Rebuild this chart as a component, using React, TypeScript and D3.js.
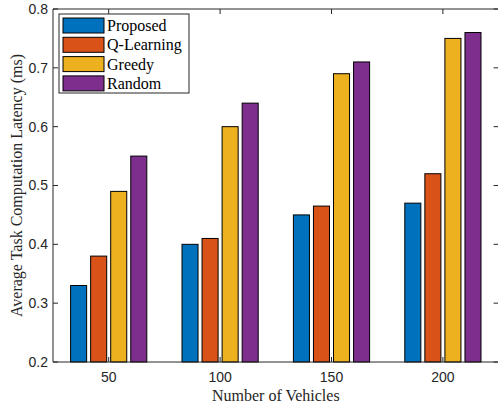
import React from "react";
import * as d3 from "d3";

// Number of vehicles on the x axis
const vehicleCounts = ["50", "100", "150", "200"];

// Average latency per scheme (ms)
const proposed = [0.33, 0.4, 0.45, 0.47];
const qLearning = [0.38, 0.41, 0.465, 0.52];
const greedy = [0.49, 0.6, 0.69, 0.75];
const random = [0.55, 0.64, 0.71, 0.76];

const seriesNames = ["Proposed", "Q-Learning", "Greedy", "Random"];
const seriesColors = ["#0072BD", "#D95319", "#EDB120", "#7E2F8E"];
const yTicks = [0.2, 0.3, 0.4, 0.5, 0.6, 0.7, 0.8];

const W = 498;
const H = 407;
const plot = { left: 53, right: 498.6, top: 9, bottom: 362 };
const axisColor = "#262626";
const sans = "'Liberation Sans', Arial, Helvetica, sans-serif";
const serif = "'Liberation Serif', 'Times New Roman', serif";

export default function App() {
  const series = [proposed, qLearning, greedy, random];
  const x = d3
    .scaleLinear()
    .domain([0.5, vehicleCounts.length + 0.5])
    .range([plot.left, plot.right]);
  const y = d3.scaleLinear().domain([0.2, 0.8]).range([plot.bottom, plot.top]);

  const step = 0.18; // spacing between bars in a group (category units)
  const barW = 0.144; // bar width (category units)
  const tick = 5;

  return (
    <svg
      width={W}
      height={H}
      style={{ position: "absolute", left: 0, top: 0, background: "#fff" }}
    >
      {/* bars */}
      {series.map((vals, s) =>
        vals.map((v, i) => {
          const c = i + 1 + (s - (series.length - 1) / 2) * step;
          const x0 = x(c - barW / 2);
          const x1 = x(c + barW / 2);
          return (
            <rect
              key={`${s}-${i}`}
              x={x0}
              y={y(v)}
              width={x1 - x0}
              height={y(0.2) - y(v)}
              fill={seriesColors[s]}
              stroke="#000"
              strokeWidth={1}
            />
          );
        })
      )}

      {/* axes box */}
      <g stroke={axisColor} strokeWidth={1} fill="none">
        <line x1={plot.left} x2={plot.right} y1={plot.bottom} y2={plot.bottom} />
        <line x1={plot.left} x2={plot.right} y1={plot.top} y2={plot.top} />
        <line x1={plot.left} x2={plot.left} y1={plot.top} y2={plot.bottom} />
        <line x1={plot.right} x2={plot.right} y1={plot.top} y2={plot.bottom} />
        {yTicks.map((t) => (
          <g key={t}>
            <line x1={plot.left} x2={plot.left + tick} y1={y(t)} y2={y(t)} />
            <line x1={plot.right} x2={plot.right - tick} y1={y(t)} y2={y(t)} />
          </g>
        ))}
        {vehicleCounts.map((_, i) => (
          <g key={i}>
            <line x1={x(i + 1)} x2={x(i + 1)} y1={plot.bottom} y2={plot.bottom - tick} />
            <line x1={x(i + 1)} x2={x(i + 1)} y1={plot.top} y2={plot.top + tick} />
          </g>
        ))}
      </g>

      {/* tick labels */}
      <g fill={axisColor} fontFamily={sans} fontSize={14}>
        {yTicks.map((t) => (
          <text key={t} x={plot.left - 5} y={y(t)} dy="0.35em" textAnchor="end">
            {t.toFixed(1)}
          </text>
        ))}
        {vehicleCounts.map((lab, i) => (
          <text key={lab} x={x(i + 1)} y={382} textAnchor="middle">
            {lab}
          </text>
        ))}
      </g>

      {/* axis titles */}
      <text
        x={(plot.left + plot.right) / 2}
        y={401}
        textAnchor="middle"
        fontFamily={serif}
        fontSize={16}
        fill={axisColor}
      >
        Number of Vehicles
      </text>
      <text
        transform={`translate(22, ${(plot.top + plot.bottom) / 2}) rotate(-90)`}
        textAnchor="middle"
        fontFamily={serif}
        fontSize={16}
        fill={axisColor}
      >
        Average Task Computation Latency (ms)
      </text>

      {/* legend */}
      <g>
        <rect x={59} y={14} width={130} height={79} fill="#fff" stroke={axisColor} strokeWidth={1} />
        {seriesNames.map((name, s) => (
          <g key={name} transform={`translate(0, ${18 + s * 19.3})`}>
            <rect x={63} y={0} width={41} height={15} fill={seriesColors[s]} stroke="#000" strokeWidth={1} />
            <text x={107} y={7.5} dy="0.35em" fontFamily={serif} fontSize={16} fill="#000">
              {name}
            </text>
          </g>
        ))}
      </g>
    </svg>
  );
}
